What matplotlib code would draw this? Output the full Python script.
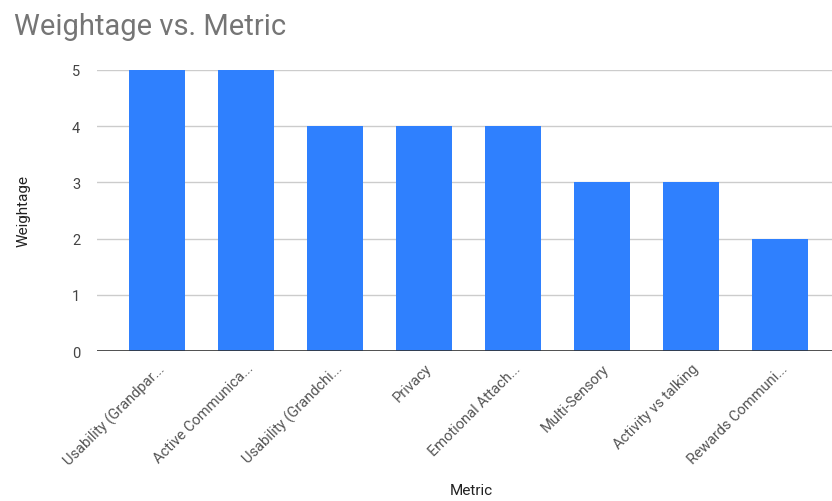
import matplotlib.pyplot as plt

metrics = ["Usability (Grandpar...", "Active Communica...", "Usability (Grandchi...",
           "Privacy", "Emotional Attach...", "Multi-Sensory",
           "Activity vs talking", "Rewards Communi..."]
weightage = [5, 5, 4, 4, 4, 3, 3, 2]

plt.rcParams['font.family'] = ['Roboto', 'DejaVu Sans']

fig = plt.figure(figsize=(8.32, 5.02), dpi=100)
ax = fig.add_axes([0.1166, 0.2988, 0.8834, 0.5598])

x = list(range(len(metrics)))
ax.bar(x, weightage, width=0.63, color="#2f80fe", zorder=3)

ax.set_xlim(-0.674, 7.58)
ax.set_ylim(0, 5)
ax.set_yticks([0, 1, 2, 3, 4, 5])
ax.yaxis.grid(True, color="#cccccc", linewidth=1, zorder=0)
ax.axhline(0, color="#333333", linewidth=1.2, zorder=4)

for s in ax.spines.values():
    s.set_visible(False)
ax.tick_params(axis="both", length=0, colors="#444444", labelsize=10.5)
ax.tick_params(axis="y", pad=12)
ax.tick_params(axis="x", pad=7)

ax.set_xticks(x)
ax.set_xticklabels(metrics, rotation=45, ha="right", rotation_mode="anchor", color="#555555")

ax.set_ylabel("Weightage", fontsize=11, color="#222222", labelpad=30)
# x axis label sits close to the bottom edge, place it by hand
fig.text(0.567, 1 - 491 / 502, "Metric", fontsize=11, color="#222222", ha="center", va="center")

fig.text(0.017, 0.93, "Weightage vs. Metric", fontsize=21, color="#757575", va="baseline")

fig.savefig("out.png", dpi=100)
